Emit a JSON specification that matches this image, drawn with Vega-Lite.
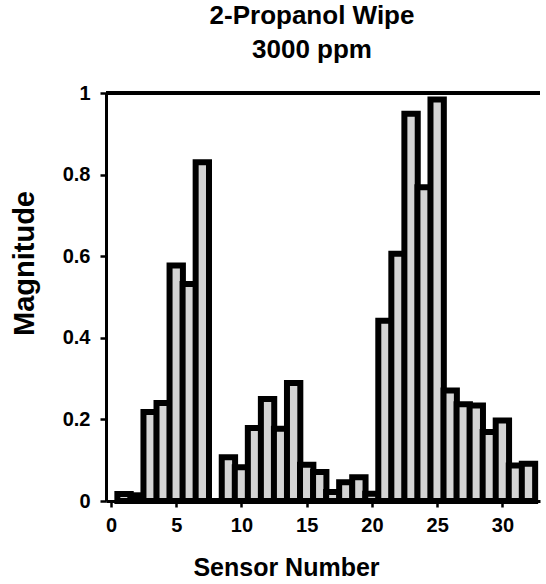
{
  "$schema": "https://vega.github.io/schema/vega-lite/v6.json",
  "width": 434,
  "height": 408,
  "autosize": "none",
  "padding": {"left": 106, "top": 93, "right": 6, "bottom": 83},
  "background": "white",
  "title": {
    "text": ["2-Propanol Wipe", "3000 ppm"],
    "font": "Liberation Sans",
    "fontSize": 26,
    "fontWeight": "bold",
    "lineHeight": 34,
    "color": "black",
    "anchor": "middle",
    "frame": "group",
    "dx": -11,
    "offset": 20
  },
  "config": {
    "view": {"stroke": null},
    "axis": {
      "grid": false,
      "domainColor": "black",
      "domainWidth": 3,
      "tickColor": "black",
      "tickWidth": 2.5,
      "tickSize": 6,
      "labelFont": "Liberation Sans",
      "labelFontWeight": "bold",
      "labelFontSize": 20,
      "labelColor": "black",
      "titleFont": "Liberation Sans",
      "titleFontWeight": "bold",
      "titleColor": "black"
    }
  },
  "data": {
    "values": [
      {"sensor": 1, "magnitude": 0.017},
      {"sensor": 2, "magnitude": 0.014},
      {"sensor": 3, "magnitude": 0.218},
      {"sensor": 4, "magnitude": 0.24},
      {"sensor": 5, "magnitude": 0.577},
      {"sensor": 6, "magnitude": 0.532},
      {"sensor": 7, "magnitude": 0.83},
      {"sensor": 8, "magnitude": 0},
      {"sensor": 9, "magnitude": 0.107},
      {"sensor": 10, "magnitude": 0.083},
      {"sensor": 11, "magnitude": 0.179},
      {"sensor": 12, "magnitude": 0.25},
      {"sensor": 13, "magnitude": 0.177},
      {"sensor": 14, "magnitude": 0.289},
      {"sensor": 15, "magnitude": 0.089},
      {"sensor": 16, "magnitude": 0.071},
      {"sensor": 17, "magnitude": 0.022},
      {"sensor": 18, "magnitude": 0.046},
      {"sensor": 19, "magnitude": 0.058},
      {"sensor": 20, "magnitude": 0.018},
      {"sensor": 21, "magnitude": 0.442},
      {"sensor": 22, "magnitude": 0.606},
      {"sensor": 23, "magnitude": 0.949},
      {"sensor": 24, "magnitude": 0.769},
      {"sensor": 25, "magnitude": 0.984},
      {"sensor": 26, "magnitude": 0.271},
      {"sensor": 27, "magnitude": 0.237},
      {"sensor": 28, "magnitude": 0.234},
      {"sensor": 29, "magnitude": 0.169},
      {"sensor": 30, "magnitude": 0.197},
      {"sensor": 31, "magnitude": 0.087},
      {"sensor": 32, "magnitude": 0.091}
    ]
  },
  "layer": [
    {
      "mark": {"type": "bar", "size": 13.35, "fill": "#d4d4d4", "stroke": "black", "strokeWidth": 6, "clip": false},
      "encoding": {
        "x": {
          "field": "sensor",
          "type": "quantitative",
          "scale": {"domain": [0, 32.5], "nice": false, "zero": false},
          "axis": {
            "title": "Sensor Number",
            "titleFontSize": 25,
            "titleX": 180,
            "titleY": 74,
            "titleAlign": "center",
            "titleBaseline": "alphabetic",
            "values": [0, 5, 10, 15, 20, 25, 30],
            "labelDx": 8,
            "labelPadding": 8,
            "labelFlush": false
          }
        },
        "y": {
          "field": "magnitude",
          "type": "quantitative",
          "scale": {"domain": [0, 1], "nice": false},
          "axis": {
            "title": "Magnitude",
            "titleFontSize": 29,
            "titleX": -82,
            "titleY": 170,
            "titleAngle": -90,
            "titleAlign": "center",
            "titleBaseline": "middle",
            "values": [0, 0.2, 0.4, 0.6, 0.8, 1],
            "format": "~g",
            "labelPadding": 10,
            "labelFlush": false
          }
        }
      }
    },
    {
      "mark": {"type": "rule", "color": "black", "strokeWidth": 3},
      "encoding": {"y": {"datum": 1}}
    }
  ]
}
